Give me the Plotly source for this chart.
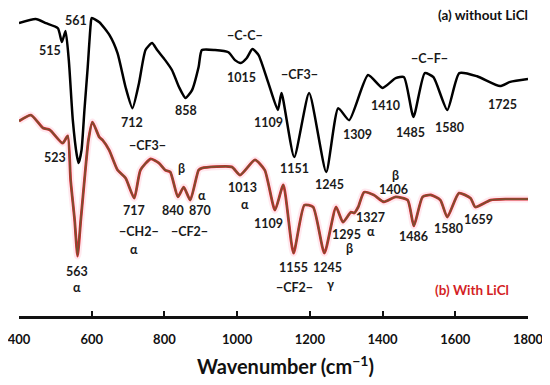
import plotly.graph_objects as go

# ---- data: FTIR spectra (arbitrary transmittance units) ----
wn_a = [400, 446, 474, 507, 518, 528, 537, 548, 559, 564, 572, 580, 589, 597, 600, 621, 649, 671, 693, 712,
        730, 748, 766, 780, 802, 821, 840, 858, 876, 894, 903, 939, 976, 994, 1010, 1026, 1042, 1059, 1086,
        1112, 1122, 1157, 1198, 1245, 1278, 1308, 1360, 1400, 1436, 1459, 1485, 1516, 1540, 1578, 1611,
        1660, 1723, 1751, 1800]
t_a = [92.7, 94.0, 92.7, 91.1, 86.7, 90.2, 81.0, 62.0, 50.9, 48.4, 52.5, 65.2, 78.8, 92.1, 94.3, 93.0, 88.9,
       83.2, 72.5, 65.8, 73.7, 84.2, 86.4, 84.2, 81.0, 77.8, 72.5, 69.0, 71.5, 78.8, 84.2, 84.2, 83.5, 81.0,
       80.1, 81.6, 84.5, 82.6, 73.7, 65.2, 70.6, 50.3, 70.6, 45.6, 65.8, 62.0, 76.3, 72.2, 75.3, 75.6, 63.0,
       76.9, 75.6, 65.2, 76.9, 75.9, 72.8, 74.1, 75.0]

wn_b = [400, 433, 466, 485, 520, 534, 542, 553, 561, 570, 580, 591, 602, 621, 630, 648, 671, 693, 717, 734,
        762, 785, 802, 816, 837, 853, 871, 894, 903, 985, 1008, 1049, 1076, 1104, 1127, 1155, 1185, 1209,
        1240, 1272, 1291, 1313, 1322, 1333, 1349, 1376, 1404, 1436, 1469, 1486, 1510, 1533, 1559, 1578,
        1610, 1642, 1655, 1697, 1742, 1800]
t_b = [61.7, 63.6, 59.5, 58.9, 54.7, 57.0, 43.0, 30.4, 19.0, 30.4, 43.0, 55.7, 61.4, 56.6, 55.7, 52.5, 46.2,
       43.7, 37.3, 46.2, 49.7, 48.4, 46.2, 45.6, 37.7, 40.8, 36.7, 46.2, 46.8, 47.2, 44.6, 49.4, 46.2, 33.5,
       41.5, 19.9, 35.1, 34.5, 19.9, 34.5, 29.7, 32.9, 32.6, 34.5, 39.2, 38.3, 36.1, 37.7, 36.7, 28.5, 37.7,
       38.3, 36.7, 31.3, 38.9, 37.3, 34.5, 36.7, 37.0, 37.0]

# peak / group labels: (text, wavenumber, level)
labels_a = [("515", 485, 84.2), ("561", 556, 93.4), ("712", 712, 61.4), ("858", 859, 65.2),
            ("−C-C−", 1021, 88.9), ("1015", 1012, 75.6), ("1109", 1086, 61.1), ("−CF3−", 1171, 76.3),
            ("1151", 1157, 46.8), ("1245", 1253, 41.5), ("1309", 1332, 57.6), ("1410", 1409, 66.5),
            ("1485", 1477, 58.2), ("1580", 1584, 59.8), ("−C−F−", 1529, 81.6), ("1725", 1731, 67.1)]
labels_b = [("523", 498, 50.3), ("−CF3−", 753, 54.1), ("β", 846, 46.8), ("α", 903, 38.3),
            ("717", 717, 33.5), ("840", 824, 33.5), ("870", 898, 33.5), ("1013", 1015, 40.6),
            ("α", 1021, 35.2), ("1109", 1086, 29.4), ("−CH2−", 731, 26.6), ("α", 717, 20.9),
            ("−CF2−", 868, 26.6), ("563", 559, 14.2), ("α", 559, 9.0), ("1155", 1155, 15.5),
            ("1245", 1248, 15.5), ("−CF2−", 1157, 8.9), ("γ", 1256, 10.1), ("1295", 1300, 25.9),
            ("β", 1308, 21.3), ("1327", 1368, 31.1), ("α", 1368, 26.7), ("β", 1436, 44.5),
            ("1406", 1431, 40.0), ("1486", 1485, 25.3), ("1580", 1581, 27.8), ("1659", 1663, 30.7)]

tick_vals = [400, 600, 800, 1000, 1200, 1400, 1600, 1800]

FONT = "Lato"
SM = 0.55

fig = go.Figure()
fig.add_trace(go.Scatter(x=wn_a, y=t_a, mode="lines",
                         line=dict(color="#000000", width=2.5, shape="spline", smoothing=SM),
                         hoverinfo="skip"))
# red spectrum drawn with a faint pink glow, red edge and brown core
fig.add_trace(go.Scatter(x=wn_b, y=t_b, mode="lines",
                         line=dict(color="rgba(255,110,150,0.16)", width=7, shape="spline", smoothing=SM),
                         hoverinfo="skip"))
fig.add_trace(go.Scatter(x=wn_b, y=t_b, mode="lines",
                         line=dict(color="#d8262e", width=2.8, shape="spline", smoothing=SM),
                         hoverinfo="skip"))
fig.add_trace(go.Scatter(x=wn_b, y=t_b, mode="lines",
                         line=dict(color="#7a5030", width=1.7, shape="spline", smoothing=SM),
                         hoverinfo="skip"))

for txt, x, y in labels_a + labels_b:
    fig.add_annotation(x=x, y=y, text=txt, showarrow=False,
                       font=dict(family=FONT, size=12.5, color="#1a1a1a", weight="bold"))

fig.add_annotation(x=1677, y=95.3, text="(a) without LiCl", showarrow=False,
                   font=dict(family=FONT, size=13.5, color="#111111", weight="bold"))
fig.add_annotation(x=1647, y=8.2, text="(b) With LiCl", showarrow=False,
                   font=dict(family=FONT, size=13.5, color="#d41f26", weight="bold"))
fig.add_annotation(xref="paper", yref="paper", x=0.523, y=-0.159, text="Wavenumber (cm<sup>−1</sup>)",
                   showarrow=False, yanchor="middle",
                   font=dict(family=FONT, size=20, color="#111111", weight="bold"))

fig.update_layout(
    width=550, height=385,
    margin=dict(l=8, r=30, t=0, b=77),
    paper_bgcolor="white", plot_bgcolor="white",
    showlegend=False,
    xaxis=dict(range=[400, 1800], tickvals=tick_vals, ticks="inside", ticklen=5, tickwidth=2,
               tickcolor="#111", showline=True, linecolor="#111", linewidth=2.5, showgrid=False,
               zeroline=False, ticklabelstandoff=10, ticklabeloverflow="allow",
               tickfont=dict(family=FONT, size=13, color="#111", weight="bold")),
    yaxis=dict(range=[0, 97.5], visible=False, showgrid=False, zeroline=False),
)

fig.write_html("out.html")
